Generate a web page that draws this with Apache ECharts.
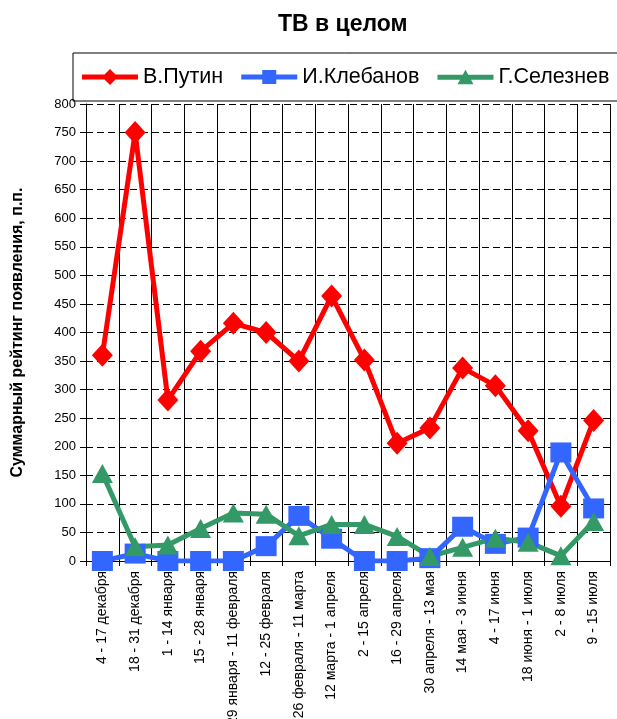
<!DOCTYPE html>
<html>
<head>
<meta charset="utf-8">
<script src="https://cdn.jsdelivr.net/npm/echarts@6/dist/echarts.min.js"></script>
<style>
  html, body { margin: 0; padding: 0; background: #fff; }
  #chart { width: 617px; height: 719px; }
</style>
</head>
<body>
<div id="chart"></div>
<script>
// Two-week periods
const periods = [
  '4 - 17 декабря', '18 - 31 декабря', '1 - 14 января', '15 - 28 января',
  '29 января - 11 февраля', '12 - 25 февраля', '26 февраля - 11 марта',
  '12 марта - 1 апреля', '2 - 15 апреля', '16 - 29 апреля',
  '30 апреля - 13 мая', '14 мая - 3 июня', '4 - 17 июня',
  '18 июня - 1 июля', '2 - 8 июля', '9 - 15 июля'
];

// Summary appearance rating per person
const putin = [360, 750, 282, 367, 416, 400, 350, 464, 352, 206, 233, 338, 307, 228, 96, 246];
const klebanov = [0, 13, 0, 0, 0, 26, 79, 39, 0, 0, 5, 60, 30, 41, 190, 92];
const seleznev = [153, 25, 28, 57, 84, 82, 44, 64, 64, 43, 8, 24, 40, 33, 9, 69];

const seriesNames = ['В.Путин', 'И.Клебанов', 'Г.Селезнев'];

const yTicks = { min: 0, max: 800, step: 50 };

const FONT = 'Arial, "Liberation Sans", sans-serif';

// Legend icons: a thick line segment with the series marker in the middle
const ICON_BAR = 'M0,5.5 L56,5.5 L56,10.5 L0,10.5 Z ';
const legendIcons = [
  'path://' + ICON_BAR + 'M28,0 L36,8 L28,16 L20,8 Z',
  'path://' + ICON_BAR + 'M21,1 L35,1 L35,15 L21,15 Z',
  'path://' + ICON_BAR + 'M28,0.5 L36,15 L20,15 Z'
];

const chart = echarts.init(document.getElementById('chart'), null, { renderer: 'canvas' });

function lineSeries(name, data, color, symbol, size) {
  return {
    name: name,
    type: 'line',
    data: data,
    symbol: symbol,
    symbolSize: size,
    lineStyle: { color: color, width: 5 },
    itemStyle: { color: color },
    emphasis: { disabled: true },
    animation: false
  };
}

chart.setOption({
  animation: false,
  backgroundColor: '#ffffff',
  title: {
    text: 'ТВ в целом',
    left: 273,
    top: 8,
    textStyle: { fontFamily: FONT, fontSize: 23, fontWeight: 'bold', color: '#000' }
  },
  legend: {
    left: 73,
    top: 53,
    width: 600,
    padding: [13, 9, 13, 9],
    itemGap: 18,
    itemWidth: 56,
    itemHeight: 16,
    borderColor: '#000',
    borderWidth: 1,
    itemStyle: { borderWidth: 0 },
    lineStyle: { width: 0 },
    textStyle: { fontFamily: FONT, fontSize: 21.5, color: '#000' },
    data: seriesNames.map((n, i) => ({ name: n, icon: legendIcons[i] }))
  },
  grid: {
    left: 86, right: 7, top: 104, bottom: 158,
    containLabel: false, outerBoundsMode: 'none'
  },
  xAxis: {
    type: 'category',
    data: periods,
    boundaryGap: true,
    axisLine: { show: true, lineStyle: { color: '#000', width: 1 } },
    axisTick: { show: true, length: 5, lineStyle: { color: '#000' } },
    axisLabel: {
      rotate: 90, interval: 0, margin: 10,
      fontFamily: FONT, fontSize: 14, color: '#000'
    },
    splitLine: { show: true, lineStyle: { color: '#000', width: 1 } }
  },
  yAxis: {
    type: 'value',
    min: yTicks.min,
    max: yTicks.max,
    interval: yTicks.step,
    name: 'Суммарный рейтинг появления, п.п.',
    nameLocation: 'middle',
    nameRotate: 90,
    nameGap: 60,
    nameTextStyle: { fontFamily: FONT, fontSize: 16, fontWeight: 'bold', color: '#000' },
    axisLine: { show: true, lineStyle: { color: '#000', width: 1 } },
    axisTick: { show: true, length: 6, inside: false, lineStyle: { color: '#000' } },
    axisLabel: { margin: 10, fontFamily: FONT, fontSize: 13, color: '#000' },
    splitLine: { show: true, lineStyle: { color: '#000', width: 1, type: [7, 4] } }
  },
  series: [
    lineSeries(seriesNames[0], putin, '#ff0000', 'diamond', [21, 23]),
    lineSeries(seriesNames[1], klebanov, '#3366ff', 'rect', [21, 20]),
    lineSeries(seriesNames[2], seleznev, '#339966', 'triangle', [21, 19])
  ]
});
</script>
</body>
</html>
